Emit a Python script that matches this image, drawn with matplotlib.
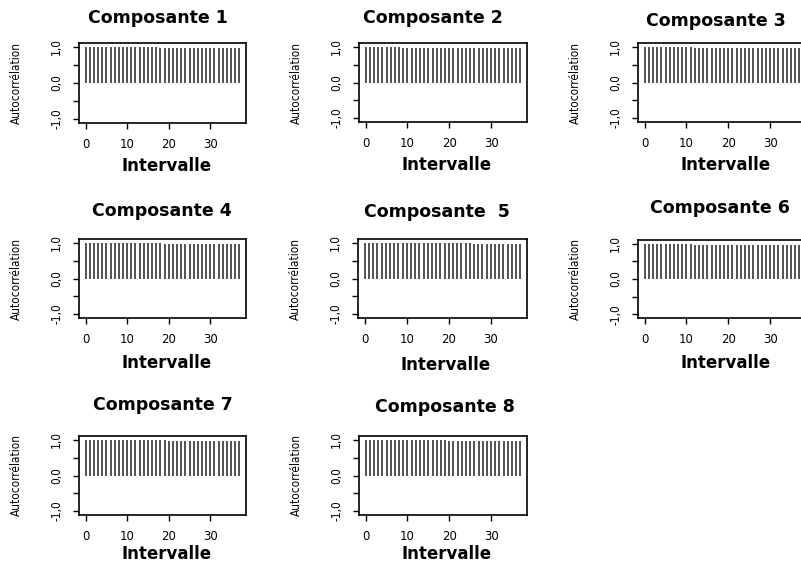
import matplotlib
matplotlib.use("Agg")
import matplotlib.pyplot as plt

lags = list(range(38))
acf1 = [1.00, 1.00, 1.00, 1.00, 1.00, 1.00, 1.00, 1.00, 1.00, 1.00, 1.00, 1.00, 0.99, 0.99, 0.99, 0.99,
        0.99, 0.99, 0.98, 0.98, 0.98, 0.98, 0.98, 0.98, 0.98, 0.98, 0.98, 0.97, 0.97, 0.97, 0.97, 0.97,
        0.97, 0.97, 0.97, 0.97, 0.97, 0.97]
acf2 = [1.00, 0.99, 0.99, 0.99, 0.99, 0.99, 0.99, 0.99, 0.99, 0.98, 0.98, 0.98, 0.98, 0.98, 0.98, 0.98,
        0.98, 0.98, 0.98, 0.98, 0.98, 0.97, 0.97, 0.97, 0.97, 0.97, 0.97, 0.97, 0.97, 0.97, 0.97, 0.97,
        0.97, 0.97, 0.97, 0.97, 0.97, 0.97]
acf3 = [1.00, 1.00, 1.00, 1.00, 1.00, 1.00, 1.00, 1.00, 1.00, 1.00, 1.00, 1.00, 0.98, 0.98, 0.98, 0.98,
        0.98, 0.98, 0.98, 0.98, 0.98, 0.98, 0.98, 0.98, 0.98, 0.98, 0.98, 0.98, 0.98, 0.98, 0.98, 0.98,
        0.98, 0.98, 0.98, 0.98, 0.98, 0.98]
acf4 = [1.00, 1.00, 1.00, 1.00, 1.00, 1.00, 1.00, 1.00, 1.00, 1.00, 1.00, 1.00, 1.00, 1.00, 0.99, 0.99,
        0.99, 0.99, 0.99, 0.98, 0.98, 0.98, 0.98, 0.98, 0.98, 0.98, 0.98, 0.98, 0.98, 0.98, 0.98, 0.98,
        0.98, 0.98, 0.98, 0.98, 0.98, 0.98]
acf5 = [1.00, 1.00, 1.00, 1.00, 1.00, 1.00, 1.00, 1.00, 1.00, 1.00, 1.00, 1.00, 1.00, 1.00, 1.00, 1.00,
        1.00, 1.00, 1.00, 1.00, 1.00, 1.00, 1.00, 0.99, 0.99, 0.99, 0.98, 0.98, 0.98, 0.98, 0.98, 0.98,
        0.98, 0.98, 0.98, 0.98, 0.98, 0.98]
acf6 = [1.00, 1.00, 1.00, 1.00, 1.00, 1.00, 1.00, 0.99, 0.99, 0.99, 0.99, 0.99, 0.98, 0.98, 0.98, 0.98,
        0.98, 0.98, 0.98, 0.98, 0.98, 0.98, 0.98, 0.98, 0.98, 0.98, 0.98, 0.98, 0.98, 0.98, 0.98, 0.98,
        0.98, 0.98, 0.98, 0.98, 0.98, 0.98]
acf7 = [1.00, 1.00, 1.00, 1.00, 1.00, 1.00, 1.00, 1.00, 1.00, 1.00, 1.00, 1.00, 1.00, 1.00, 1.00, 0.99,
        0.99, 0.99, 0.99, 0.99, 0.98, 0.98, 0.98, 0.98, 0.98, 0.98, 0.98, 0.98, 0.98, 0.98, 0.98, 0.98,
        0.98, 0.98, 0.98, 0.98, 0.98, 0.98]
acf8 = [1.00, 1.00, 1.00, 1.00, 1.00, 1.00, 1.00, 0.99, 0.99, 0.99, 0.99, 0.99, 0.99, 0.99, 0.99, 0.99,
        0.99, 0.99, 0.99, 0.99, 0.98, 0.98, 0.98, 0.98, 0.98, 0.98, 0.98, 0.98, 0.98, 0.98, 0.98, 0.98,
        0.98, 0.98, 0.98, 0.98, 0.98, 0.98]

titles = ["Composante 1", "Composante 2", "Composante 3", "Composante 4",
          "Composante  5", "Composante 6", "Composante 7", "Composante 8"]
series = [acf1, acf2, acf3, acf4, acf5, acf6, acf7, acf8]
xticks = [0, 10, 20, 30]
yticks = [-1.0, -0.5, 0.0, 0.5, 1.0]
ytick_labels = ["-1,0", "", "0,0", "", "1,0"]
ylabel = "Autocorrélation"
xlabel = "Intervalle"

# layout in pixels: (left, top, right, bottom) of box, title centre (x, y), xlabel top offset
W, H = 801, 563
boxes = [(79, 43, 246, 123), (359, 43, 527, 122), (638, 43, 806, 122),
         (79, 239, 246, 318), (358, 239, 527, 318), (638, 240, 806, 318),
         (79, 436, 246, 515), (359, 436, 527, 515)]
title_pos = [(158, 18), (433, 18), (716, 21), (162, 211), (437, 212), (720, 208),
             (163, 405), (445, 407)]
xlab_off = [34, 34, 34, 36, 38, 36, 30, 30]

fig = plt.figure(figsize=(W / 100, H / 100), dpi=100)
fig.patch.set_facecolor("white")

cond = dict(family="DejaVu Sans", stretch="condensed")

for i in range(8):
    l, t, r, b = boxes[i]
    hpx = b - t
    wpx = r - l
    ax = fig.add_axes([l / W, 1 - b / H, wpx / W, hpx / H])
    ax.vlines(lags, 0, series[i], colors="#222222", linewidth=1.1)
    ax.set_xlim(-1.6, 38.6)
    ax.set_ylim(-1.11, 1.11)
    ax.set_xticks(xticks)
    ax.set_xticklabels([str(v) for v in xticks], fontsize=8.5, family="DejaVu Sans")
    ax.set_yticks(yticks)
    ax.set_yticklabels(ytick_labels, rotation=90, va="center", fontsize=8.5, **cond)
    ax.tick_params(direction="out", length=4.5, width=1)
    ax.tick_params(axis="x", pad=6)
    ax.tick_params(axis="y", pad=7)
    for s in ax.spines.values():
        s.set_linewidth(1.2)
    ax.set_ylabel(ylabel, fontsize=8.5, **cond)
    ax.yaxis.set_label_coords(-56 / wpx, 0.5)
    ax.set_xlabel(xlabel, fontsize=12, fontweight="bold", family="DejaVu Sans")
    ax.xaxis.set_label_coords(88 / wpx, -xlab_off[i] / hpx)
    tx, ty = title_pos[i]
    fig.text(tx / W, 1 - ty / H, titles[i], ha="center", va="center",
             fontsize=12.5, fontweight="bold", family="DejaVu Sans")

fig.savefig("out.png", dpi=100, facecolor="white")
